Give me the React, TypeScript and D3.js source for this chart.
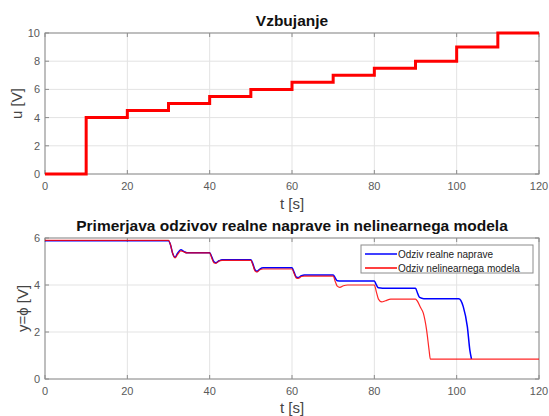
import React, { useRef, useEffect } from "react";
import * as d3 from "d3";

// excitation steps: time of change and new level
const stepTimes = [0, 10, 20, 30, 40, 50, 60, 70, 80, 90, 100, 110, 120];
const stepLevels = [0, 4, 4.5, 5, 5.5, 6, 6.5, 7, 7.5, 8, 9, 10, 10];

// measured response of the real device
const realT = [0, 30, 30.5, 31, 31.6, 32.2, 33, 33.8, 34.5, 40, 40.5, 41, 41.5, 42.3, 43, 50, 50.5, 51, 51.5, 52.2, 53, 60, 60.5, 61, 61.5, 62.3, 63, 70, 70.5, 71, 72, 80, 80.5, 81, 82, 90, 90.5, 91, 92, 100.5, 101, 101.6, 102.6, 103.2, 103.6];
const realY = [5.88, 5.88, 5.7, 5.35, 5.18, 5.35, 5.5, 5.42, 5.37, 5.37, 5.2, 5.0, 4.95, 5.03, 5.07, 5.07, 4.9, 4.65, 4.58, 4.68, 4.73, 4.73, 4.55, 4.35, 4.32, 4.4, 4.43, 4.43, 4.3, 4.18, 4.17, 4.17, 4.0, 3.88, 3.86, 3.86, 3.65, 3.47, 3.42, 3.42, 3.35, 3.08, 2.22, 1.23, 0.85];

// response of the nonlinear model
const modelT = [0, 30, 30.5, 31, 31.6, 32.2, 33, 33.8, 34.5, 40, 40.5, 41, 41.5, 42.3, 43, 50, 50.5, 51, 51.5, 52.2, 53, 60, 60.5, 61, 61.5, 62.3, 63, 70, 70.5, 71, 71.6, 72.5, 73.5, 80, 80.5, 81, 81.8, 82.7, 84, 90, 90.5, 91.2, 91.9, 92.7, 93.3, 93.6, 120];
const modelY = [5.9, 5.9, 5.7, 5.35, 5.15, 5.3, 5.45, 5.4, 5.37, 5.37, 5.15, 4.95, 4.92, 5.02, 5.05, 5.05, 4.85, 4.6, 4.55, 4.65, 4.68, 4.68, 4.5, 4.3, 4.28, 4.36, 4.38, 4.38, 4.15, 3.95, 3.9, 3.97, 4.0, 4.0, 3.7, 3.4, 3.28, 3.33, 3.4, 3.4, 3.3, 3.05, 2.8, 2.08, 1.23, 0.85, 0.85];

const xTicks = [0, 20, 40, 60, 80, 100, 120];
const uTicks = [0, 2, 4, 6, 8, 10];
const yTicks = [0, 2, 4, 6];
const legendLabels = ["Odziv realne naprave", "Odziv nelinearnega modela"];

const FONT = "'Liberation Sans', Arial, sans-serif";

const App = () => {
  const svgRef = useRef<SVGSVGElement>(null);

  useEffect(() => {
    const svg = d3.select(svgRef.current);
    svg.selectAll("*").remove();

    const left = 45;
    const right = 539;
    const x = d3.scaleLinear().domain([0, 120]).range([left, right]);

    const drawAxes = (
      y: d3.ScaleLinear<number, number>,
      ticks: number[],
      title: string,
      ylabel: string,
      titleY: number,
      xlabelY: number,
      ylabelX: number
    ) => {
      const [y0, y1] = y.range();
      const g = svg.append("g");
      // grid
      g.selectAll(".gx")
        .data(xTicks)
        .enter()
        .append("line")
        .attr("x1", (d) => x(d))
        .attr("x2", (d) => x(d))
        .attr("y1", y0)
        .attr("y2", y1)
        .attr("stroke", "#e3e3e3")
        .attr("stroke-width", 1);
      g.selectAll(".gy")
        .data(ticks)
        .enter()
        .append("line")
        .attr("x1", left)
        .attr("x2", right)
        .attr("y1", (d) => y(d))
        .attr("y2", (d) => y(d))
        .attr("stroke", "#e3e3e3")
        .attr("stroke-width", 1);
      // box
      g.append("rect")
        .attr("x", left)
        .attr("y", y1)
        .attr("width", right - left)
        .attr("height", y0 - y1)
        .attr("fill", "none")
        .attr("stroke", "#8c8c8c")
        .attr("stroke-width", 1);
      // inward ticks
      xTicks.forEach((t) => {
        g.append("line").attr("x1", x(t)).attr("x2", x(t)).attr("y1", y0).attr("y2", y0 - 4).attr("stroke", "#8c8c8c");
        g.append("line").attr("x1", x(t)).attr("x2", x(t)).attr("y1", y1).attr("y2", y1 + 4).attr("stroke", "#8c8c8c");
      });
      ticks.forEach((t) => {
        g.append("line").attr("x1", left).attr("x2", left + 4).attr("y1", y(t)).attr("y2", y(t)).attr("stroke", "#8c8c8c");
        g.append("line").attr("x1", right).attr("x2", right - 4).attr("y1", y(t)).attr("y2", y(t)).attr("stroke", "#8c8c8c");
      });
      // tick labels
      g.selectAll(".xl")
        .data(xTicks)
        .enter()
        .append("text")
        .attr("x", (d) => x(d))
        .attr("y", y0 + 16)
        .attr("text-anchor", "middle")
        .attr("font-family", FONT)
        .attr("font-size", 11)
        .attr("fill", "#5a5a5a")
        .text((d) => d);
      g.selectAll(".yl")
        .data(ticks)
        .enter()
        .append("text")
        .attr("x", left - 5)
        .attr("y", (d) => y(d) + 4)
        .attr("text-anchor", "end")
        .attr("font-family", FONT)
        .attr("font-size", 11)
        .attr("fill", "#5a5a5a")
        .text((d) => d);
      // title and labels
      g.append("text")
        .attr("x", (left + right) / 2)
        .attr("y", titleY)
        .attr("text-anchor", "middle")
        .attr("font-family", FONT)
        .attr("font-size", 15.5)
        .attr("font-weight", "bold")
        .attr("fill", "#111")
        .text(title);
      g.append("text")
        .attr("x", (left + right) / 2)
        .attr("y", xlabelY)
        .attr("text-anchor", "middle")
        .attr("font-family", FONT)
        .attr("font-size", 15)
        .attr("fill", "#444")
        .text("t [s]");
      g.append("text")
        .attr("transform", `translate(${ylabelX},${(y0 + y1) / 2}) rotate(-90)`)
        .attr("text-anchor", "middle")
        .attr("font-family", FONT)
        .attr("font-size", 15)
        .attr("fill", "#444")
        .text(ylabel);
      return g;
    };

    // top: excitation
    const yU = d3.scaleLinear().domain([0, 10]).range([174, 33]);
    const gTop = drawAxes(yU, uTicks, "Vzbujanje", "u [V]", 26, 209, 22);
    const stepData = stepTimes.map((t, i) => ({ t, v: stepLevels[i] }));
    gTop.append("path")
      .datum(stepData)
      .attr("fill", "none")
      .attr("stroke", "#ff0000")
      .attr("stroke-width", 3)
      .attr(
        "d",
        d3.line<{ t: number; v: number }>()
          .x((d) => x(d.t))
          .y((d) => yU(d.v))
          .curve(d3.curveStepAfter)
      );

    // bottom: responses
    const yY = d3.scaleLinear().domain([0, 6]).range([379, 238]);
    const gBot = drawAxes(
      yY,
      yTicks,
      "Primerjava odzivov realne naprave in nelinearnega modela",
      "y=\u03d5 [V]",
      231,
      413,
      28
    );
    const line = d3.line<[number, number]>()
      .x((d) => x(d[0]))
      .y((d) => yY(d[1]))
      .curve(d3.curveMonotoneX);
    const realData = realT.map((t, i) => [t, realY[i]] as [number, number]);
    const modelData = modelT.map((t, i) => [t, modelY[i]] as [number, number]);
    gBot.append("path")
      .datum(realData)
      .attr("fill", "none")
      .attr("stroke", "#0000ff")
      .attr("stroke-width", 1.5)
      .attr("d", line);
    gBot.append("path")
      .datum(modelData)
      .attr("fill", "none")
      .attr("stroke", "#ff0000")
      .attr("stroke-width", 1.2)
      .attr("stroke-opacity", 0.85)
      .attr("d", line);

    // legend
    const lg = gBot.append("g");
    lg.append("rect")
      .attr("x", 361)
      .attr("y", 245)
      .attr("width", 172)
      .attr("height", 28)
      .attr("fill", "#fff")
      .attr("stroke", "#8c8c8c");
    const colors = ["#0000ff", "#ff0000"];
    legendLabels.forEach((lab, i) => {
      const ly = 254 + i * 14;
      lg.append("line")
        .attr("x1", 365)
        .attr("x2", 397)
        .attr("y1", ly)
        .attr("y2", ly)
        .attr("stroke", colors[i])
        .attr("stroke-width", 1.5);
      lg.append("text")
        .attr("x", 398)
        .attr("y", ly + 3.5)
        .attr("font-family", FONT)
        .attr("font-size", 10)
        .attr("fill", "#222")
        .text(lab);
    });
  }, []);

  return (
    <svg
      ref={svgRef}
      width={549}
      height={416}
      style={{ position: "absolute", left: 0, top: 0, background: "#fff" }}
    ></svg>
  );
};

export default App;
